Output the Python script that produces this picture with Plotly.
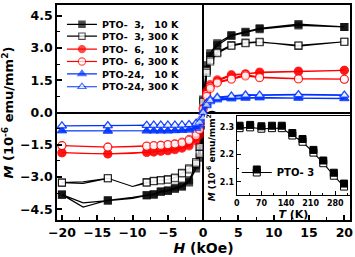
import plotly.graph_objects as go

# ---------------- data ----------------
# field points of the descending sweep, kOe (the ascending sweep uses the same points reversed)
H_dn = [20, 13.5, 8, 6, 4, 2, 1, 0.5, 0, -0.5, -1, -2, -3, -4, -5, -6, -7, -8, -10, -13.5, -17, -20]
H_no_marker = [-10, -17]

pto3_10K_dn = [3.98, 4.11, 3.92, 3.75, 3.60, 3.22, 2.75, 2.20, 0.60, -1.60, -2.45, -3.15, -3.40, -3.50, -3.62, -3.66, -3.80, -3.84, -3.95, -4.08, -4.40, -3.82]
pto3_10K_up = [3.98, 4.05, 3.88, 3.72, 3.56, 3.12, 2.62, 2.00, -0.60, -2.10, -2.60, -3.25, -3.45, -3.55, -3.65, -3.70, -3.82, -3.86, -4.00, -4.10, -4.20, -3.82]

pto3_300K_dn = [3.29, 3.09, 3.29, 3.25, 3.14, 2.82, 2.45, 1.95, 0.50, -1.60, -2.30, -2.60, -2.80, -3.02, -3.10, -3.14, -3.18, -3.24, -3.44, -3.06, -3.30, -3.26]
pto3_300K_up = [3.29, 3.12, 3.27, 3.22, 3.10, 2.76, 2.37, 1.85, -0.50, -1.92, -2.37, -2.65, -2.83, -3.06, -3.13, -3.16, -3.20, -3.26, -3.44, -3.06, -3.22, -3.26]

pto6_10K_dn = [1.96, 1.93, 1.88, 1.80, 1.76, 1.52, 1.30, 1.00, 0.20, -0.80, -1.20, -1.50, -1.62, -1.70, -1.76, -1.79, -1.83, -1.84, -1.88, -1.92, -1.90, -1.87]
pto6_10K_up = [1.96, 1.90, 1.85, 1.78, 1.72, 1.46, 1.22, 0.90, -0.40, -1.05, -1.32, -1.56, -1.66, -1.73, -1.78, -1.80, -1.84, -1.86, -1.90, -1.93, -1.91, -1.87]

pto6_300K_dn = [1.55, 1.58, 1.65, 1.76, 1.58, 1.42, 1.20, 0.85, 0.15, -0.60, -0.95, -1.25, -1.38, -1.45, -1.49, -1.52, -1.54, -1.56, -1.58, -1.61, -1.58, -1.54]
pto6_300K_up = [1.55, 1.56, 1.62, 1.70, 1.55, 1.38, 1.12, 0.75, -0.30, -0.80, -1.08, -1.30, -1.42, -1.47, -1.50, -1.53, -1.55, -1.57, -1.59, -1.61, -1.57, -1.54]

pto24_10K_dn = [0.66, 0.68, 0.70, 0.68, 0.66, 0.63, 0.56, 0.42, 0.05, -0.45, -0.65, -0.78, -0.82, -0.84, -0.85, -0.85, -0.85, -0.85, -0.86, -0.86, -0.86, -0.85]
pto24_10K_up = [0.64, 0.66, 0.68, 0.66, 0.63, 0.58, 0.50, 0.32, -0.30, -0.62, -0.74, -0.82, -0.84, -0.85, -0.86, -0.86, -0.86, -0.86, -0.86, -0.87, -0.86, -0.85]

pto24_300K_dn = [0.82, 0.84, 0.82, 0.83, 0.78, 0.72, 0.62, 0.45, 0.00, -0.35, -0.48, -0.55, -0.57, -0.58, -0.58, -0.58, -0.58, -0.59, -0.60, -0.60, -0.61, -0.62]
pto24_300K_up = [0.80, 0.82, 0.80, 0.80, 0.75, 0.68, 0.55, 0.35, -0.25, -0.45, -0.52, -0.56, -0.58, -0.59, -0.59, -0.59, -0.59, -0.60, -0.61, -0.62, -0.62, -0.62]

series_names = ["PTO-\u00a0\u00a03,\u00a0\u00a0\u00a010 K", "PTO-\u00a0\u00a03,\u00a0300 K",
                "PTO-\u00a0\u00a06,\u00a0\u00a0\u00a010 K", "PTO-\u00a0\u00a06,\u00a0300 K",
                "PTO-24,\u00a0\u00a0\u00a010 K", "PTO-24,\u00a0300 K"]

# inset: M(T) of PTO-3
T_inset = [8, 38, 70, 100, 128, 158, 187, 218, 246, 276, 305]
M_inset_filled = [2.306, 2.309, 2.304, 2.306, 2.306, 2.279, 2.257, 2.217, 2.178, 2.133, 2.093]
M_inset_open = [2.297, 2.300, 2.295, 2.297, 2.297, 2.270, 2.247, 2.207, 2.168, 2.122, 2.082]
inset_name = "PTO-\u00a03"

# ---------------- styling ----------------
FONT = "DejaVu Sans"
styles = [
    ("#000000", "square", True, 7),
    ("#000000", "square", False, 7),
    ("#ff0000", "circle", True, 8),
    ("#ff0000", "circle", False, 8),
    ("#0033ff", "triangle-up", True, 8),
    ("#0033ff", "triangle-up", False, 8),
]
data_dn = [pto3_10K_dn, pto3_300K_dn, pto6_10K_dn, pto6_300K_dn, pto24_10K_dn, pto24_300K_dn]
data_up = [pto3_10K_up, pto3_300K_up, pto6_10K_up, pto6_300K_up, pto24_10K_up, pto24_300K_up]
legend_ids = ["legend", "legend4", "legend5", "legend6", "legend7", "legend8"]
legend_row_px = [22.5, 34.5, 47.5, 60, 72.5, 85.5]   # row centres in pixels from top

W, H = 355, 257
ML, MR, MT, MB = 57, 3, 3, 37
PW, PH = W - ML - MR, H - MT - MB

fig = go.Figure()

H_loop = H_dn + H_dn[::-1]
for name, dn, up, (col, sym, filled, ms), lg in zip(series_names, data_dn, data_up, styles, legend_ids):
    M_loop = dn + up[::-1]
    sizes = [0 if h in H_no_marker else ms for h in H_loop]
    fig.add_trace(go.Scatter(
        x=H_loop, y=M_loop, name=name, mode="lines+markers",
        line=dict(color=col, width=1.2),
        marker=dict(symbol=sym, size=sizes, color=col if filled else "white",
                    line=dict(color=col, width=1.1)),
        xaxis="x", yaxis="y", legend=lg, showlegend=True,
    ))

# white cover behind the inset (empty subplot that only paints its background)
fig.add_trace(go.Scatter(x=[], y=[], xaxis="x2", yaxis="y2", showlegend=False))

# inset traces
fig.add_trace(go.Scatter(
    x=T_inset, y=M_inset_open, name=inset_name, mode="lines+markers",
    line=dict(color="black", width=1.1),
    marker=dict(symbol="square", size=7, color="white", line=dict(color="black", width=1)),
    xaxis="x3", yaxis="y3", legend="legend2", showlegend=True,
))
fig.add_trace(go.Scatter(
    x=T_inset, y=M_inset_filled, name="\u00a0", mode="markers",
    marker=dict(symbol="square", size=7, color="black", line=dict(color="black", width=1)),
    xaxis="x3", yaxis="y3", legend="legend3", showlegend=True,
))

tickfont = dict(family=FONT, size=12.5, color="black", weight="bold")
ax_common = dict(showline=True, linewidth=1.6, linecolor="black", mirror=True,
                 ticks="inside", ticklen=5, tickwidth=1.5, tickcolor="black",
                 showgrid=False, tickfont=tickfont)

inset_tickfont = dict(family=FONT, size=8, color="black", weight="bold")
inset_common = dict(showline=True, linewidth=1.3, linecolor="black", mirror=True,
                    ticks="inside", ticklen=4, tickwidth=1.2, tickcolor="black",
                    showgrid=False, zeroline=False, tickfont=inset_tickfont)

legend_font = dict(family=FONT, size=9.5, color="black", weight="bold")
legend_layouts = {}
for lg, ypx in zip(legend_ids, legend_row_px):
    legend_layouts[lg] = dict(x=5 / PW, y=(MT + PH - ypx) / PH, xanchor="left", yanchor="middle",
                              bgcolor="rgba(0,0,0,0)", font=legend_font, itemwidth=30)

inset_legend_font = dict(family=FONT, size=10, color="black", weight="bold")

fig.update_layout(
    width=W, height=H, showlegend=True,
    margin=dict(l=ML, r=MR, t=MT, b=MB),
    paper_bgcolor="white", plot_bgcolor="white",
    font=dict(family=FONT, color="black"),
    xaxis=dict(domain=[0, 1], range=[-20.7, 20.8], tick0=0, dtick=5,
               zeroline=True, zerolinecolor="black", zerolinewidth=1.5,
               minor=dict(ticks="inside", ticklen=3, dtick=2.5, tickwidth=1.2, tickcolor="black"),
               title=dict(text="<i>H</i> (kOe)", standoff=4,
                          font=dict(family=FONT, size=14, color="black", weight="bold")),
               **ax_common),
    yaxis=dict(domain=[0, 1], range=[-5, 5], tick0=0, dtick=1.5, tickformat=".1f",
               zeroline=True, zerolinecolor="black", zerolinewidth=1.5,
               minor=dict(ticks="inside", ticklen=3, dtick=0.75, tickwidth=1.2, tickcolor="black"),
               title=dict(text="<i>M</i> (10<sup>-6</sup> emu/mm<sup>2</sup>)", standoff=4,
                          font=dict(family=FONT, size=13, color="black", weight="bold")),
               **ax_common),
    xaxis2=dict(domain=[0.505, 0.994], anchor="y2", visible=False, range=[0, 1]),
    yaxis2=dict(domain=[0.03, 0.49], anchor="x2", visible=False, range=[0, 1]),
    xaxis3=dict(domain=[0.6136, 1], anchor="y3", range=[0, 322], tick0=0, dtick=70,
                minor=dict(ticks="inside", ticklen=2.5, dtick=35, tickwidth=1, tickcolor="black"),
                title=dict(text="<i>T</i> (K)", standoff=2,
                           font=dict(family=FONT, size=11, color="black", weight="bold")),
                **inset_common),
    yaxis3=dict(domain=[0.115, 0.484], anchor="x3", range=[2.05, 2.342], tick0=2.0, dtick=0.1,
                tickformat=".1f",
                minor=dict(ticks="inside", ticklen=2.5, dtick=0.05, tickwidth=1, tickcolor="black"),
                title=dict(text="<i>M</i> (10<sup>-6</sup> emu/mm<sup>2</sup>)", standoff=2,
                           font=dict(family=FONT, size=9, color="black", weight="bold")),
                **inset_common),
    legend2=dict(x=0.6136, y=0.221, xanchor="left", yanchor="middle", bgcolor="rgba(0,0,0,0)",
                 font=inset_legend_font, itemwidth=30),
    legend3=dict(x=0.6136, y=0.235, xanchor="left", yanchor="middle", bgcolor="rgba(0,0,0,0)",
                 font=inset_legend_font, itemwidth=30),
    **legend_layouts,
)

fig.write_html("out.html", config={"displayModeBar": False},
               post_script="document.body.style.margin='0';document.body.style.overflow='hidden';")
